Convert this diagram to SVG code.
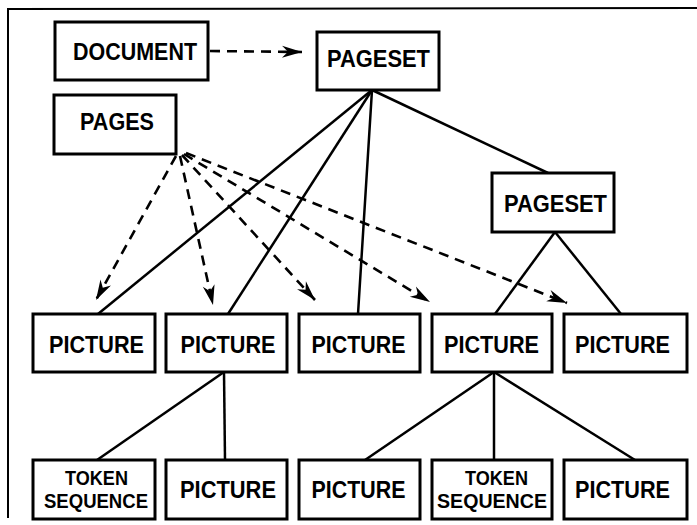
<svg xmlns="http://www.w3.org/2000/svg" width="697" height="525" viewBox="0 0 697 525">
  <defs>
    <marker id="arrow" markerUnits="userSpaceOnUse" markerWidth="24" markerHeight="16" viewBox="-22 -8 24 16" refX="0" refY="0" orient="auto">
      <path d="M0,0 L-20,-6 L-14,0 L-20,6 Z" fill="#000"/>
    </marker>
    <style>
      .box { fill: #fff; stroke: #000; stroke-width: 3; }
      .lbl { font-family: "Liberation Sans", Arial, sans-serif; font-weight: bold; font-size: 23px; text-anchor: middle; fill: #000; }
      .sm { font-size: 20px; }
      .tree { stroke: #000; stroke-width: 2.5; fill: none; }
      .ref { stroke: #000; stroke-width: 2.6; fill: none; stroke-dasharray: 10 7; marker-end: url(#arrow); }
      .frame { stroke: #000; stroke-width: 2; fill: none; }
    </style>
  </defs>

  <rect width="697" height="525" fill="#fff"/>

  <!-- outer frame -->
  <path class="frame" d="M8,518 L8,9 L697,8"/>

  <!-- connectors -->
  <g id="connectors">
    <!-- tree edges -->
    <line class="tree" x1="372" y1="90" x2="98" y2="314"/>
    <line class="tree" x1="372" y1="90" x2="228" y2="314"/>
    <line class="tree" x1="372" y1="90" x2="358" y2="314"/>
    <line class="tree" x1="372" y1="90" x2="548" y2="173"/>
    <line class="tree" x1="555" y1="232" x2="495" y2="314"/>
    <line class="tree" x1="555" y1="232" x2="621" y2="314"/>
    <line class="tree" x1="224" y1="372" x2="97" y2="460"/>
    <line class="tree" x1="224" y1="372" x2="225" y2="460"/>
    <line class="tree" x1="494" y1="372" x2="365" y2="460"/>
    <line class="tree" x1="494" y1="372" x2="494" y2="460"/>
    <line class="tree" x1="494" y1="372" x2="635" y2="460"/>
    <!-- references -->
    <line class="ref" x1="210" y1="51" x2="302" y2="52"/>
    <line class="ref" x1="176" y1="156" x2="96" y2="300"/>
    <line class="ref" x1="180" y1="156" x2="213" y2="305"/>
    <line class="ref" x1="182" y1="155" x2="315" y2="300"/>
    <line class="ref" x1="184" y1="154" x2="430" y2="302"/>
    <line class="ref" x1="186" y1="153" x2="567" y2="303"/>
  </g>

  <g id="document">
    <rect class="box" x="55" y="22" width="153" height="58"/>
    <text class="lbl" x="135" y="60" textLength="124" lengthAdjust="spacingAndGlyphs">DOCUMENT</text>
  </g>
  <g id="pages">
    <rect class="box" x="54" y="95" width="122" height="59"/>
    <text class="lbl" x="117" y="130" textLength="74" lengthAdjust="spacingAndGlyphs">PAGES</text>
  </g>
  <g id="pageset-top">
    <rect class="box" x="317" y="32" width="122" height="58"/>
    <text class="lbl" x="378.5" y="67" textLength="103" lengthAdjust="spacingAndGlyphs">PAGESET</text>
  </g>
  <g id="pageset-sub">
    <rect class="box" x="492" y="173" width="122" height="59"/>
    <text class="lbl" x="555.5" y="212" textLength="103" lengthAdjust="spacingAndGlyphs">PAGESET</text>
  </g>

  <!-- first row of pictures -->
  <g id="picture-1">
    <rect class="box" x="33" y="314" width="122" height="58"/>
    <text class="lbl" x="96.5" y="353" textLength="95" lengthAdjust="spacingAndGlyphs">PICTURE</text>
  </g>
  <g id="picture-2">
    <rect class="box" x="166" y="314" width="121" height="58"/>
    <text class="lbl" x="228" y="353" textLength="95" lengthAdjust="spacingAndGlyphs">PICTURE</text>
  </g>
  <g id="picture-3">
    <rect class="box" x="299" y="314" width="121" height="58"/>
    <text class="lbl" x="358.5" y="353" textLength="94" lengthAdjust="spacingAndGlyphs">PICTURE</text>
  </g>
  <g id="picture-4">
    <rect class="box" x="432" y="314" width="120" height="58"/>
    <text class="lbl" x="491.5" y="353" textLength="95" lengthAdjust="spacingAndGlyphs">PICTURE</text>
  </g>
  <g id="picture-5">
    <rect class="box" x="564" y="314" width="123" height="58"/>
    <text class="lbl" x="622.5" y="353" textLength="95" lengthAdjust="spacingAndGlyphs">PICTURE</text>
  </g>

  <!-- second row -->
  <g id="token-sequence-1">
    <rect class="box" x="33" y="460" width="122" height="59"/>
    <text class="lbl sm" x="96.5" y="485" textLength="63" lengthAdjust="spacingAndGlyphs">TOKEN</text>
    <text class="lbl sm" x="96" y="508" textLength="104" lengthAdjust="spacingAndGlyphs">SEQUENCE</text>
  </g>
  <g id="picture-6">
    <rect class="box" x="166" y="460" width="121" height="59"/>
    <text class="lbl" x="228" y="498" textLength="96" lengthAdjust="spacingAndGlyphs">PICTURE</text>
  </g>
  <g id="picture-7">
    <rect class="box" x="299" y="460" width="121" height="59"/>
    <text class="lbl" x="358.5" y="498" textLength="94" lengthAdjust="spacingAndGlyphs">PICTURE</text>
  </g>
  <g id="token-sequence-2">
    <rect class="box" x="432" y="460" width="120" height="59"/>
    <text class="lbl sm" x="496.5" y="485" textLength="63" lengthAdjust="spacingAndGlyphs">TOKEN</text>
    <text class="lbl sm" x="492" y="508" textLength="110" lengthAdjust="spacingAndGlyphs">SEQUENCE</text>
  </g>
  <g id="picture-8">
    <rect class="box" x="564" y="460" width="123" height="59"/>
    <text class="lbl" x="622.5" y="498" textLength="95" lengthAdjust="spacingAndGlyphs">PICTURE</text>
  </g>
</svg>
